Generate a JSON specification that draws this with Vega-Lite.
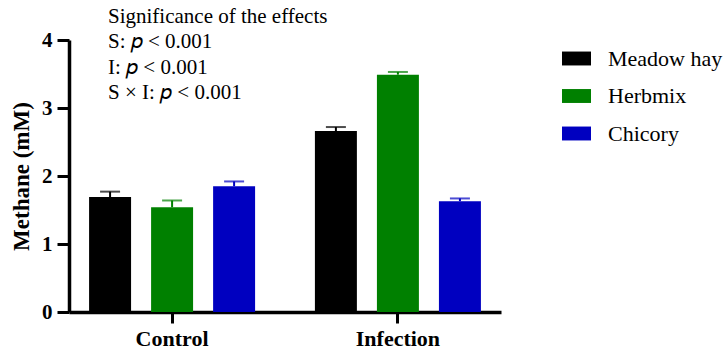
{
  "$schema": "https://vega.github.io/schema/vega-lite/v6.json",
  "width": 432,
  "height": 272,
  "autosize": {"type": "none"},
  "padding": {"left": 69, "top": 40, "right": 225, "bottom": 42},
  "background": "white",
  "title": {
    "text": ["Significance of the effects", "S: 𝑝 < 0.001", "I: 𝑝 < 0.001", "S × I: 𝑝 < 0.001"],
    "anchor": "start",
    "frame": "group",
    "orient": "top",
    "font": "Liberation Serif",
    "fontSize": 21,
    "fontWeight": "normal",
    "color": "black",
    "lineHeight": 25.5,
    "baseline": "top",
    "offset": 0,
    "dx": 39,
    "dy": 74
  },
  "config": {
    "view": {"stroke": null},
    "axis": {"grid": false, "domainColor": "black", "tickColor": "black", "labelColor": "black", "titleColor": "black"}
  },
  "data": {
    "values": [
      {"group": "Control", "diet": "Meadow hay", "mean": 1.69, "upper": 1.77},
      {"group": "Control", "diet": "Herbmix", "mean": 1.54, "upper": 1.64},
      {"group": "Control", "diet": "Chicory", "mean": 1.85, "upper": 1.92},
      {"group": "Infection", "diet": "Meadow hay", "mean": 2.66, "upper": 2.72},
      {"group": "Infection", "diet": "Herbmix", "mean": 3.49, "upper": 3.53},
      {"group": "Infection", "diet": "Chicory", "mean": 1.63, "upper": 1.67}
    ]
  },
  "encoding": {
    "x": {
      "field": "group", "type": "nominal",
      "scale": {"paddingInner": 0.177, "paddingOuter": 0.045},
      "axis": {
        "title": null, "labelAngle": 0, "labelFont": "Liberation Serif", "labelFontSize": 22, "labelFontWeight": "bold",
        "labelPadding": 5, "tickSize": 11, "tickWidth": 3, "domainWidth": 3.5, "ticks": true
      }
    },
    "xOffset": {
      "field": "diet", "type": "nominal",
      "scale": {"domain": ["Meadow hay", "Herbmix", "Chicory"], "paddingInner": 0.323, "paddingOuter": 0.16}
    },
    "color": {
      "field": "diet", "type": "nominal",
      "scale": {"domain": ["Meadow hay", "Herbmix", "Chicory"], "range": ["#000000", "#008000", "#0000c0"]},
      "legend": {
        "title": null, "orient": "none", "legendX": 493, "legendY": 4,
        "symbolType": "M-1,-0.48H1V0.48H-1Z", "symbolSize": 841, "symbolStrokeWidth": 0, "symbolOpacity": 1,
        "labelFont": "Liberation Serif", "labelFontSize": 22, "labelColor": "black",
        "labelOffset": 17, "rowPadding": 11.5, "padding": 0
      }
    }
  },
  "layer": [
    {
      "mark": {"type": "bar", "opacity": 1},
      "encoding": {
        "y": {
          "field": "mean", "type": "quantitative",
          "scale": {"domain": [0, 4], "nice": false},
          "axis": {
            "title": "Methane (mM)", "titleFont": "Liberation Serif", "titleFontSize": 23, "titleFontWeight": "bold",
            "titlePadding": 8, "format": "d",
            "values": [0, 1, 2, 3, 4], "labelFont": "Liberation Serif", "labelFontSize": 21, "labelFontWeight": "bold",
            "labelPadding": 5, "tickSize": 12, "tickWidth": 3, "domainWidth": 3.5
          }
        }
      }
    },
    {
      "mark": {"type": "rule", "strokeWidth": 2},
      "encoding": {
        "y": {"field": "mean", "type": "quantitative"},
        "y2": {"field": "upper"}
      }
    },
    {
      "mark": {"type": "tick", "thickness": 2, "size": 20},
      "encoding": {
        "y": {"field": "upper", "type": "quantitative"}
      }
    }
  ]
}
